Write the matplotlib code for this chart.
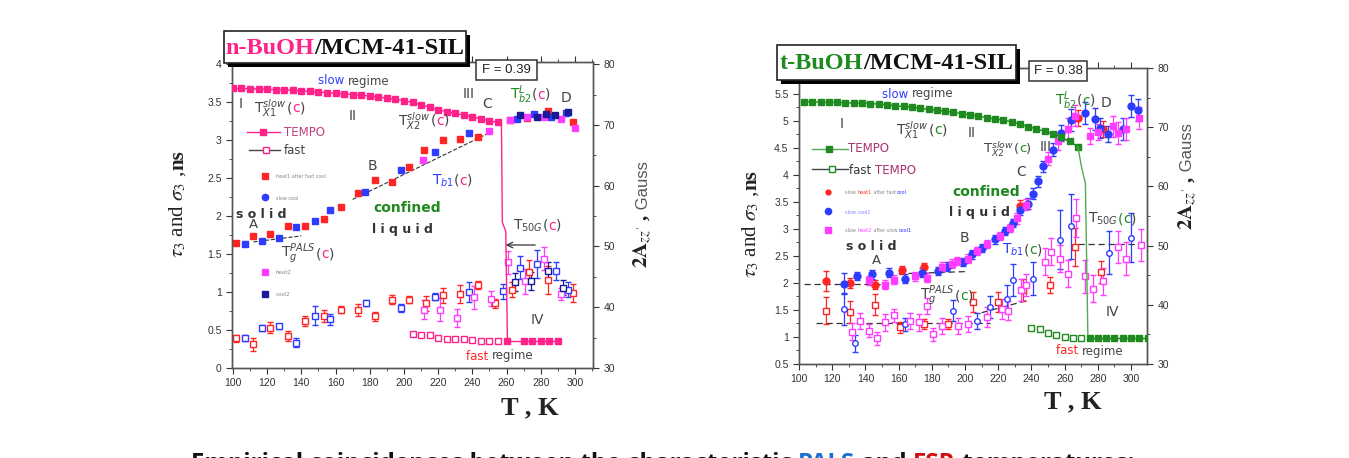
import matplotlib
matplotlib.use("Agg")
import matplotlib.pyplot as plt
from matplotlib.patches import Rectangle
from matplotlib.ticker import MultipleLocator, FuncFormatter

plt.rcParams["mathtext.fontset"] = "dejavusans"

W, H = 1349, 458

# colours
PINK = "#ff2288"
RED = "#ff2525"
BLUE = "#2d3cff"
MAG = "#ff3cff"
NAVY = "#1a1a96"
GREEN = "#1f8a1f"
PURP = "#a8306e"
GREY = "#444444"

# ---------------- n-BuOH / MCM-41-SIL ----------------
# ESR (TEMPO), Gauss, right axis
nb_tempo_T = [100, 105, 110, 115, 120, 125, 130, 135, 140, 145, 150, 155, 160, 165, 170, 175,
              180, 185, 190, 195, 200, 205, 210, 215, 220, 225, 230, 235, 240, 245, 250, 255]
nb_tempo_G = [76.0, 76.0, 75.95, 75.9, 75.85, 75.8, 75.75, 75.7, 75.6, 75.5, 75.4, 75.3, 75.2, 75.1, 75.0, 74.9,
              74.75, 74.6, 74.4, 74.2, 74.0, 73.7, 73.3, 72.9, 72.5, 72.2, 71.9, 71.6, 71.3, 71.0, 70.7, 70.4]
nb_drop_T = [255, 257, 257.5, 259.5, 260.5]
nb_drop_G = [70.4, 70.2, 54.0, 52.5, 34.4]
nb_fast_T = [260, 270, 275, 280, 285, 290]
nb_fast_G = [34.4, 34.4, 34.4, 34.4, 34.4, 34.4]
nb_fasto_T = [205, 210, 215, 220, 225, 230, 235, 240, 245, 250, 255]
nb_fasto_G = [35.6, 35.5, 35.4, 35.0, 34.8, 34.7, 34.7, 34.6, 34.5, 34.5, 34.5]

# PALS tau3 (filled), ns
nb_red_T = [102, 112, 122, 132, 142, 153, 163, 173, 183, 193, 203, 212, 223, 233, 243, 262, 272, 284, 299]
nb_red_v = [1.65, 1.74, 1.77, 1.87, 1.87, 1.96, 2.12, 2.30, 2.47, 2.45, 2.65, 2.87, 3.00, 3.02, 3.04, 3.26, 3.29, 3.39, 3.24]
nb_blue_T = [107, 117, 127, 137, 148, 157, 177, 198, 218, 238, 266, 276, 286, 295]
nb_blue_v = [1.63, 1.67, 1.71, 1.86, 1.93, 2.08, 2.32, 2.61, 2.85, 3.09, 3.28, 3.34, 3.31, 3.36]
nb_mag_T = [211, 250, 262, 272, 282, 292, 300]
nb_mag_v = [2.74, 3.12, 3.27, 3.31, 3.30, 3.28, 3.16]
nb_navy_T = [268, 278, 283, 288, 296]
nb_navy_v = [3.33, 3.30, 3.35, 3.33, 3.37]

# PALS sigma3 (open), ns
nb_sred_T = [102, 112, 122, 132, 142, 153, 163, 173, 183, 193, 203, 213, 223, 233, 243, 253, 263, 273, 284, 299]
nb_sred_v = [0.39, 0.31, 0.53, 0.42, 0.62, 0.69, 0.77, 0.76, 0.68, 0.90, 0.90, 0.85, 0.96, 0.97, 1.09, 0.85, 1.03, 1.27, 1.16, 0.99]
nb_sred_e = [0.05, 0.08, 0.07, 0.07, 0.07, 0.08, 0.04, 0.08, 0.06, 0.06, 0.05, 0.10, 0.10, 0.12, 0.05, 0.06, 0.10, 0.15, 0.18, 0.12]
nb_sblue_T = [107, 117, 127, 137, 148, 157, 178, 198, 218, 238, 258, 268, 278, 289, 296]
nb_sblue_v = [0.39, 0.53, 0.55, 0.33, 0.69, 0.64, 0.85, 0.79, 0.94, 1.00, 1.01, 1.32, 1.37, 1.28, 1.03]
nb_sblue_e = [0.04, 0.04, 0.03, 0.06, 0.12, 0.07, 0.04, 0.05, 0.05, 0.13, 0.10, 0.15, 0.18, 0.12, 0.10]
nb_smag_T = [212, 221, 231, 241, 251, 261, 271, 282, 292]
nb_smag_v = [0.77, 0.77, 0.66, 0.93, 0.91, 1.39, 1.14, 1.44, 0.98]
nb_smag_e = [0.12, 0.15, 0.12, 0.15, 0.10, 0.15, 0.17, 0.15, 0.08]
nb_snavy_T = [265, 274, 284, 293]
nb_snavy_v = [1.13, 1.15, 1.28, 1.06]
nb_snavy_e = [0.12, 0.12, 0.12, 0.10]

# dashed fits
nb_fit1_T = [112, 140]
nb_fit1_v = [1.66, 1.74]
nb_fit2_T = [170, 252]
nb_fit2_v = [2.22, 3.12]

# ---------------- t-BuOH / MCM-41-SIL ----------------
tb_tempo_T = [103, 108, 113, 118, 123, 128, 133, 138, 143, 148, 153, 158, 163, 168, 173, 178, 183,
              188, 193, 198, 203, 208, 213, 218, 223, 228, 233, 238, 243, 248, 253, 258, 263, 268]
tb_tempo_G = [74.3, 74.3, 74.2, 74.2, 74.2, 74.1, 74.1, 74.1, 74.0, 73.9, 73.8, 73.6, 73.5, 73.4, 73.2, 73.0, 72.9,
              72.7, 72.5, 72.3, 72.1, 71.9, 71.6, 71.4, 71.2, 70.9, 70.5, 70.1, 69.7, 69.3, 68.9, 68.3, 67.6, 66.7]
tb_drop_T = [268, 270, 272.5, 274]
tb_drop_G = [66.7, 63.5, 60.5, 34.4]
tb_fast_T = [275, 280, 285, 290, 295, 300, 305, 310]
tb_fast_G = [34.4, 34.4, 34.4, 34.4, 34.4, 34.4, 34.4, 34.4]
tb_fasto_T = [240, 245, 250, 255, 260, 265, 270]
tb_fasto_G = [36.1, 35.9, 35.3, 34.9, 34.6, 34.4, 34.4]

tb_red_T = [116, 131, 146, 162, 175, 233, 268, 283]
tb_red_v = [2.04, 2.00, 1.97, 2.24, 2.29, 3.43, 5.05, 4.85]
tb_red_e = [0.18, 0.10, 0.08, 0.08, 0.08, 0.10, 0.15, 0.15]
tb_blue_T = [127, 135, 144, 154, 164, 174, 184, 189, 199, 204, 210, 218, 224, 229, 233, 238, 241, 244,
             247, 253, 258, 264, 272, 278, 281, 286, 295, 300, 304]
tb_blue_v = [1.99, 2.13, 2.16, 2.19, 2.08, 2.19, 2.22, 2.30, 2.39, 2.53, 2.65, 2.81, 2.96, 3.11, 3.36, 3.47, 3.65, 3.88,
             4.16, 4.47, 4.77, 5.02, 5.15, 5.04, 4.87, 4.76, 4.85, 5.28, 5.20]
tb_blue_e = [0.20, 0.08, 0.08, 0.08, 0.08, 0.08, 0.08, 0.08, 0.08, 0.08, 0.08, 0.08, 0.08, 0.08, 0.10, 0.10, 0.10, 0.10,
             0.10, 0.12, 0.15, 0.20, 0.20, 0.20, 0.18, 0.15, 0.20, 0.20, 0.20]
tb_mag_T = [142, 152, 157, 170, 177, 186, 192, 195, 202, 207, 213, 221, 227, 231, 237, 250, 256, 262, 266,
            275, 280, 289, 292, 297, 305]
tb_mag_v = [2.05, 1.97, 2.06, 2.12, 2.10, 2.30, 2.36, 2.41, 2.45, 2.59, 2.72, 2.87, 3.02, 3.20, 3.45, 4.30, 4.62, 4.85,
            5.10, 4.72, 4.80, 4.90, 4.78, 4.85, 5.05]
tb_mag_e = [0.08, 0.08, 0.08, 0.08, 0.08, 0.08, 0.08, 0.08, 0.08, 0.08, 0.08, 0.08, 0.08, 0.10, 0.10, 0.12, 0.15, 0.20,
            0.20, 0.15, 0.15, 0.20, 0.20, 0.20, 0.20]

tb_sred_T = [116, 131, 146, 161, 175, 190, 205, 220, 235, 251, 266, 282]
tb_sred_v = [1.49, 1.46, 1.60, 1.18, 1.24, 1.24, 1.65, 1.65, 1.87, 1.96, 2.67, 2.20]
tb_sred_e = [0.25, 0.20, 0.20, 0.10, 0.10, 0.10, 0.18, 0.18, 0.20, 0.15, 0.35, 0.20]
tb_sblue_T = [127, 134, 164, 193, 207, 215, 225, 229, 241, 257, 264, 287, 300]
tb_sblue_v = [1.52, 0.88, 1.24, 1.49, 1.30, 1.55, 1.71, 2.05, 2.08, 2.80, 3.05, 2.56, 2.84]
tb_sblue_e = [0.30, 0.15, 0.12, 0.20, 0.15, 0.20, 0.25, 0.30, 0.30, 0.55, 0.60, 0.40, 0.45]
tb_smag_T = [132, 137, 142, 147, 152, 157, 167, 172, 177, 181, 186, 196, 202, 213, 222, 226, 234, 237,
             248, 252, 257, 262, 267, 272, 277, 283, 292, 297, 306]
tb_smag_v = [1.10, 1.30, 1.12, 0.98, 1.27, 1.40, 1.30, 1.27, 1.58, 1.05, 1.21, 1.21, 1.24, 1.37, 1.52, 1.49, 1.87, 1.96,
             2.39, 2.58, 2.45, 2.17, 3.20, 2.12, 1.89, 2.03, 2.67, 2.45, 2.70]
tb_smag_e = [0.15, 0.15, 0.12, 0.12, 0.15, 0.12, 0.15, 0.15, 0.15, 0.12, 0.15, 0.15, 0.15, 0.18, 0.18, 0.18, 0.20, 0.20,
             0.25, 0.25, 0.25, 0.25, 0.35, 0.30, 0.25, 0.25, 0.30, 0.30, 0.30]

tb_fitA_T = [103, 150]
tb_fitA_v = [1.98, 1.98]
tb_fitB_T = [160, 200]
tb_fitB_v = [2.17, 2.21]
tb_fitC_T = [110, 215]
tb_fitC_v = [1.25, 1.25]
tb_fitD_T = [210, 238]
tb_fitD_v = [1.45, 1.68]
tb_fitE_T = [268, 310]
tb_fitE_v = [2.72, 2.72]

fig = plt.figure(figsize=(W / 100, H / 100), dpi=100)
rend = fig.canvas.get_renderer()
TICKFONT = "Liberation Sans"
SERIF = "Liberation Serif"
TOP = 20  # zorder for texts above the overlay


def fx(px):
    return px / W


def fy(py):
    return 1 - py / H


def rect(l, t, r, b):
    return [fx(l), fy(b), (r - l) / W, (b - t) / H]


gfmt = FuncFormatter(lambda v, p: "%g" % round(v, 3))


def style(ax, twin):
    for a in (ax, twin):
        a.tick_params(which="both", direction="out", labelsize=7.5, colors="#333333")
        a.tick_params(which="major", length=4)
        a.tick_params(which="minor", length=2)
        for lab in a.get_xticklabels() + a.get_yticklabels():
            lab.set_family(TICKFONT)
        for s in a.spines.values():
            s.set_color("#555555")
            s.set_linewidth(1.0)
    ax.tick_params(top=True, which="both")
    ax.xaxis.set_minor_locator(MultipleLocator(10))
    ax.xaxis.set_major_locator(MultipleLocator(20))
    ax.yaxis.set_major_formatter(gfmt)
    twin.yaxis.set_major_locator(MultipleLocator(10))
    twin.yaxis.set_minor_locator(MultipleLocator(5))


def eb(ax, T, v, e, c, m, face, ms=5):
    ax.errorbar(T, v, yerr=e, fmt=m, color=c, mfc=face, mec=c, ms=ms, mew=1.0,
                elinewidth=0.9, capsize=2, capthick=0.8, zorder=3)


def pieces(x, y, parts, size=9, family="DejaVu Sans", weight="normal"):
    cur = x
    for s, c in parts:
        t = fig.text(fx(cur), fy(y), s, color=c, fontsize=size, family=family,
                     weight=weight, va="center", ha="left", zorder=TOP)
        cur += t.get_window_extent(rend).width
    return cur


def title_box(l, t, r, b, parts, size):
    ov.add_patch(Rectangle((l + 4, t + 4), r - l, b - t, fc="black", ec="none", zorder=5))
    ov.add_patch(Rectangle((l, t), r - l, b - t, fc="white", ec="#222222", lw=1.2, zorder=6))
    tmp = [fig.text(0, 0, s, fontsize=size, family=SERIF, weight="bold") for s, c in parts]
    width = sum(tt.get_window_extent(rend).width for tt in tmp)
    for tt in tmp:
        tt.remove()
    pieces((l + r) / 2 - width / 2, (t + b) / 2 + 1, parts, size=size, family=SERIF, weight="bold")


def fbox(l, t, r, b, s):
    ov.add_patch(Rectangle((l, t), r - l, b - t, fc="white", ec="#333333", lw=1.1, zorder=6))
    fig.text(fx((l + r) / 2), fy((t + b) / 2), s, fontsize=9.5, family="Liberation Sans",
             ha="center", va="center", color="#222222", zorder=TOP)


def vlabel(x, ybot, parts):
    # rotated label built from pieces, read from bottom to top
    cur = ybot
    for s, c, fam, size, wt in parts:
        t = fig.text(fx(x), fy(cur), s, rotation=90, color=c, fontsize=size, family=fam, weight=wt,
                     ha="center", va="bottom", zorder=TOP, math_fontfamily="stix")
        cur -= t.get_window_extent(rend).height


# ---------------- left panel ----------------
axL = fig.add_axes(rect(232, 62, 593, 368))
axL2 = axL.twinx()
axL.set_xlim(99.5, 310.5)
axL.set_ylim(0, 4.03)
axL2.set_ylim(30, 80.35)
axL.yaxis.set_major_locator(MultipleLocator(0.5))
axL.yaxis.set_minor_locator(MultipleLocator(0.25))
style(axL, axL2)

axL2.plot(nb_tempo_T, nb_tempo_G, "-s", color=PINK, ms=4.5, lw=1.0, zorder=4)
axL2.plot(nb_drop_T, nb_drop_G, "-", color=PINK, lw=1.0, zorder=4)
axL2.plot(nb_fast_T, nb_fast_G, "-s", color=PINK, ms=4.5, lw=1.0, zorder=4)
axL2.plot(nb_fasto_T, nb_fasto_G, "s", color=PINK, mfc="white", ms=5, mew=1.0, zorder=4)

axL.plot(nb_fit1_T, nb_fit1_v, "--", color="#333333", lw=0.8, zorder=2)
axL.plot(nb_fit2_T, nb_fit2_v, "--", color="#333333", lw=0.8, zorder=2)
axL.plot(nb_red_T, nb_red_v, "s", color=RED, ms=5, zorder=3)
axL.plot(nb_blue_T, nb_blue_v, "s", color=BLUE, ms=5, zorder=3)
axL.plot(nb_mag_T, nb_mag_v, "s", color=MAG, ms=5, zorder=3)
axL.plot(nb_navy_T, nb_navy_v, "s", color=NAVY, ms=5, zorder=3)
eb(axL, nb_sred_T, nb_sred_v, nb_sred_e, RED, "s", "white")
eb(axL, nb_sblue_T, nb_sblue_v, nb_sblue_e, BLUE, "s", "white")
eb(axL, nb_smag_T, nb_smag_v, nb_smag_e, MAG, "s", "white")
eb(axL, nb_snavy_T, nb_snavy_v, nb_snavy_e, NAVY, "s", "white")

# ---------------- right panel ----------------
axR = fig.add_axes(rect(799, 68, 1147, 364))
axR2 = axR.twinx()
axR.set_xlim(100, 309.6)
axR.set_ylim(0.5, 5.98)
axR2.set_ylim(30, 80)
axR.yaxis.set_major_locator(MultipleLocator(0.5))
axR.yaxis.set_minor_locator(MultipleLocator(0.25))
style(axR, axR2)

axR2.plot(tb_tempo_T, tb_tempo_G, "-s", color=GREEN, ms=4.5, lw=1.0, zorder=4)
axR2.plot(tb_drop_T, tb_drop_G, "-", color="#55aa55", lw=1.0, zorder=4)
axR2.plot(tb_fast_T, tb_fast_G, "-s", color=GREEN, ms=4.5, lw=1.0, zorder=4)
axR2.plot(tb_fasto_T, tb_fasto_G, "s", color=GREEN, mfc="white", ms=5, mew=1.0, zorder=4)

for fT, fv in [(tb_fitA_T, tb_fitA_v), (tb_fitB_T, tb_fitB_v), (tb_fitC_T, tb_fitC_v),
               (tb_fitD_T, tb_fitD_v), (tb_fitE_T, tb_fitE_v)]:
    axR.plot(fT, fv, "--", color="#333333", lw=0.9, dashes=(5, 3), zorder=2)
eb(axR, tb_sred_T, tb_sred_v, tb_sred_e, RED, "s", "white")
eb(axR, tb_sblue_T, tb_sblue_v, tb_sblue_e, BLUE, "o", "white", ms=4)
eb(axR, tb_smag_T, tb_smag_v, tb_smag_e, MAG, "s", "white")
eb(axR, tb_red_T, tb_red_v, tb_red_e, RED, "o", RED)
eb(axR, tb_blue_T, tb_blue_v, tb_blue_e, BLUE, "o", BLUE)
eb(axR, tb_mag_T, tb_mag_v, tb_mag_e, MAG, "s", MAG)

# ---------------- overlay in pixel coordinates ----------------
ov = fig.add_axes([0, 0, 1, 1], zorder=10)
ov.set_xlim(0, W)
ov.set_ylim(H, 0)
ov.axis("off")
ov.patch.set_alpha(0)

# titles
title_box(224, 31, 466, 63, [("n-BuOH", PINK), ("/MCM-41-SIL", "#111111")], 17.5)
fbox(476, 60, 537, 80, "F = 0.39")
title_box(777, 45, 1016, 80, [("t-BuOH", GREEN), ("/MCM-41-SIL", "#111111")], 17.5)
fbox(1029, 61, 1087, 81, "F = 0.38")

# axis labels
for xx, yb in [(178, 258), (751, 278)]:
    vlabel(xx, yb, [(r"$\tau_3$ and $\sigma_3$ , ", "#222222", SERIF, 15, "normal"),
                    ("ns", "#222222", SERIF, 15, "bold")])
for xx, yb in [(643, 268), (1188, 230)]:
    vlabel(xx, yb, [(r"$\mathbf{2A}_{zz'}$ ,", "#222222", SERIF, 15, "bold"),
                    (" Gauss", "#555555", "Liberation Sans", 12, "normal")])
fig.text(fx(530), fy(408), "T , K", fontsize=19, family=SERIF, weight="bold", ha="center", va="center",
         color="#222222", zorder=TOP)
fig.text(fx(1073), fy(402), "T , K", fontsize=19, family=SERIF, weight="bold", ha="center", va="center",
         color="#222222", zorder=TOP)


def lbl(x, y, s, c=GREY, size=10, **kw):
    fig.text(fx(x), fy(y), s, color=c, fontsize=size, va="center", ha="left", family="DejaVu Sans",
             zorder=TOP, **kw)


# left panel annotations
pieces(318, 81, [("slow ", BLUE), ("regime", GREY)], size=8.5)
lbl(239, 104, "I")
pieces(254, 108, [(r"$\mathrm{T}^{slow}_{X1}$", GREY), ("(", GREY), ("c", PINK), (")", GREY)], size=10)
lbl(349, 116, "II")
lbl(463, 94, "III")
lbl(482, 104, "C")
pieces(510, 95, [(r"$\mathrm{T}^{L}_{b2}$", GREEN), ("(", GREY), ("c", PINK), (")", GREY)], size=10)
lbl(561, 98, "D")
pieces(398, 121, [(r"$\mathrm{T}^{slow}_{X2}$", GREY), ("(", GREY), ("c", PINK), (")", GREY)], size=10)
lbl(368, 166, "B")
pieces(432, 181, [(r"$\mathrm{T}_{b1}$", BLUE), ("(", GREY), ("c", PINK), (")", GREY)], size=10)
lbl(236, 214, "s o l i d", c="#333333", size=9, weight="bold")
lbl(373, 208, "confined", c=GREEN, size=10, weight="bold")
lbl(372, 230, "l i q u i d", c="#333333", size=9, weight="bold")
lbl(249, 225, "A", size=9.5)
pieces(281, 254, [(r"$\mathrm{T}^{PALS}_{g}$", GREY), ("(", GREY), ("c", PINK), (")", GREY)], size=10)
pieces(513, 226, [(r"$\mathrm{T}_{50G}$", GREY), ("(", GREY), ("c", PINK), (")", GREY)], size=10)
ov.annotate("", xy=(503, 245), xytext=(538, 245),
            arrowprops=dict(arrowstyle="->", color="#333333", lw=0.9))
lbl(531, 320, "IV")
pieces(466, 356, [("fast ", RED), ("regime", GREY)], size=8.5)

# left legend
ov.plot([247, 280], [132, 132], "-", color=PINK, lw=1)
ov.plot([263], [132], "s", color=PINK, ms=4.5)
lbl(284, 132, "TEMPO", c="#c04080", size=8.5)
ov.plot([249, 280], [150, 150], "-", color="#444444", lw=1)
ov.plot([266], [150], "s", color=PINK, mfc="white", ms=5)
lbl(284, 150, "fast", c=GREY, size=8.5)
ov.plot([265], [176], "s", color=RED, ms=4.5)
lbl(276, 177, "heat1 after fast cool", c="#888888", size=3.5)
ov.plot([265], [197], "o", color=BLUE, ms=4.5)
lbl(276, 198, "slow cool", c="#888888", size=3.5)
ov.plot([265], [272], "s", color=MAG, ms=4.5)
lbl(276, 273, "heat2", c="#888888", size=4)
ov.plot([265], [294], "s", color=NAVY, ms=4.5)
lbl(276, 295, "cool2", c="#888888", size=4)

# right panel annotations
pieces(882, 94, [("slow ", BLUE), ("regime", GREY)], size=8.5)
lbl(840, 124, "I")
pieces(896, 130, [(r"$\mathrm{T}^{slow}_{X1}$", GREY), ("(", GREY), ("c", GREEN), (")", GREY)], size=10)
lbl(968, 133, "II")
pieces(983, 149, [(r"$\mathrm{T}^{slow}_{X2}$", GREY), ("(", GREY), ("c", GREEN), (")", GREY)], size=9.5)
lbl(1040, 147, "III")
lbl(1016, 172, "C")
pieces(1055, 101, [(r"$\mathrm{T}^{L}_{b2}$", GREEN), ("(", GREY), ("c", GREEN), (")", GREY)], size=10)
lbl(1101, 103, "D")
lbl(952, 192, "confined", c=GREEN, size=10, weight="bold")
lbl(949, 213, "l i q u i d", c="#333333", size=9, weight="bold")
pieces(1088, 219, [(r"$\mathrm{T}_{50G}$", GREY), ("(", GREEN), ("c", GREEN), (")", GREY)], size=10)
lbl(960, 238, "B")
lbl(846, 247, "s o l i d", c="#333333", size=9, weight="bold")
lbl(872, 260, "A", size=9.5)
pieces(1002, 250, [(r"$\mathrm{T}_{b1}$", BLUE), ("(", GREY), ("c", GREEN), (")", GREY)], size=10)
pieces(920, 296, [(r"$\mathrm{T}^{PALS}_{g}$", GREY), ("(", GREY), ("c", GREEN), (")", GREY)], size=10)
lbl(1106, 312, "IV")
pieces(1056, 351, [("fast ", RED), ("regime", GREY)], size=8.5)

# right legend
ov.plot([812, 848], [149, 149], "-", color="#55aa55", lw=1)
ov.plot([829], [149], "s", color=GREEN, ms=4.5)
lbl(848, 149, "TEMPO", c=PURP, size=8.5)
ov.plot([812, 848], [169, 169], "-", color="#444444", lw=1)
ov.plot([832], [169], "s", color=GREEN, mfc="white", ms=5)
pieces(849, 170, [("fast ", "#333333"), ("TEMPO", PURP)], size=8.5)
ov.plot([828], [192], "o", color=RED, ms=3.5)
pieces(845, 193, [("slow ", "#888888"), ("heat1", RED), (" after fast ", "#888888"), ("cool", BLUE)], size=3.5)
ov.plot([828], [211], "o", color=BLUE, ms=4.5)
pieces(845, 212, [("slow cool1", "#8888ff")], size=3.5)
ov.plot([828], [230], "s", color=MAG, ms=4.5)
pieces(845, 231, [("slow ", "#888888"), ("heat2", MAG), (" after slow ", "#888888"), ("cool1", BLUE)], size=3.5)

# caption, cut by the lower edge as in the slide
cap = [("Empirical coincidences between the characteristic ", "#111111"), ("PALS", "#1f6fd0"),
       (" and ", "#111111"), ("ESR", "#d01010"), (" temperatures:", "#111111")]
cur = 191
for s, c in cap:
    t = fig.text(fx(cur), fy(452), s, color=c, fontsize=17.3, family="Open Sans", weight="bold",
                 va="top", ha="left", zorder=TOP)
    cur += t.get_window_extent(rend).width

fig.savefig("out.png", dpi=100)
